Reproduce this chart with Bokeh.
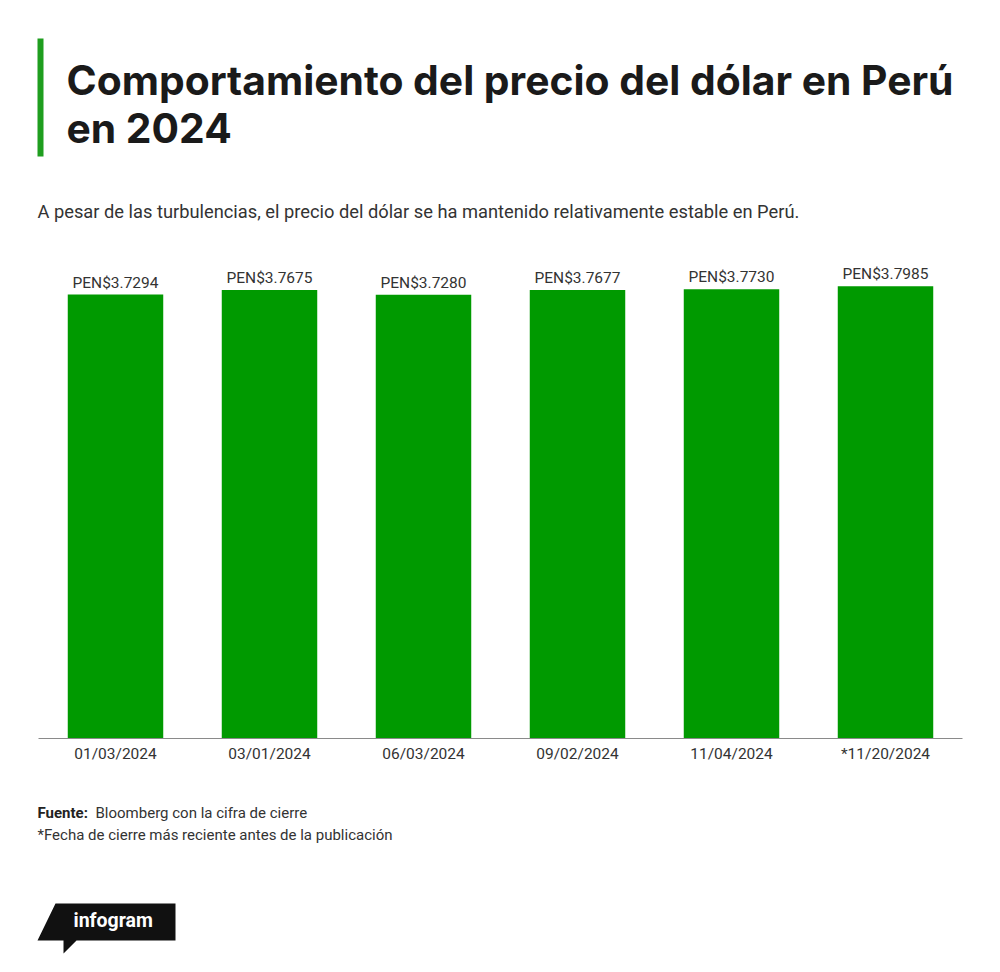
from bokeh.plotting import figure
from bokeh.models import ColumnDataSource, Range1d
from bokeh.core.properties import value
from bokeh.embed import file_html
from bokeh.resources import INLINE

dates = ["01/03/2024", "03/01/2024", "06/03/2024", "09/02/2024", "11/04/2024", "*11/20/2024"]
prices = [3.7294, 3.7675, 3.7280, 3.7677, 3.7730, 3.7985]
labels = ["PEN$%.4f" % v for v in prices]

title_line1 = "Comportamiento del precio del dólar en Perú"
title_line2 = "en 2024"
subtitle = "A pesar de las turbulencias, el precio del dólar se ha mantenido relativamente estable en Perú."
source_bold = "Fuente:"
source_text = "Bloomberg con la cifra de cierre"
note_text = "*Fecha de cierre más reciente antes de la publicación"
brand = "infogram"

W, H = 984, 956
# chart area in page pixels
PLOT_L, PLOT_R, BASE_Y = 38, 962, 738
PX_PER_UNIT = 119.05
cat_w = (PLOT_R - PLOT_L) / len(dates)

# page-pixel ranges for decorations (y measured from top)
p = figure(width=W, height=H, x_range=Range1d(0, W), y_range=Range1d(H, 0),
           output_backend="svg", toolbar_location=None,
           min_border=0, min_border_left=0, min_border_right=0, min_border_top=0, min_border_bottom=0)
p.axis.visible = False
p.grid.visible = False
p.outline_line_color = None
p.background_fill_color = "white"
p.border_fill_color = "white"

# data ranges for bars: category index on x, price on y
p.extra_x_ranges = {"cat": Range1d(-(PLOT_L + cat_w / 2) / cat_w, (W - PLOT_L - cat_w / 2) / cat_w)}
p.extra_y_ranges = {"val": Range1d(-(H - BASE_Y) / PX_PER_UNIT, BASE_Y / PX_PER_UNIT)}

idx = list(range(len(dates)))
src = ColumnDataSource(dict(x=idx, top=prices, label=labels, date=dates, zero=[0] * len(dates)))

p.vbar(x="x", top="top", bottom=0, width=0.62, source=src, fill_color="#009a00", line_color=None,
       x_range_name="cat", y_range_name="val")
p.text(x="x", y="top", text="label", source=src, text_align="center", text_baseline="bottom",
       y_offset=-3, text_font_size="15.5px", text_color="#333333", text_font=value("Roboto"),
       x_range_name="cat", y_range_name="val")

# x axis line and category labels
p.segment(x0=[-0.5], x1=[len(dates) - 0.5], y0=[0], y1=[0], line_color="#8a8a8a", line_width=1,
          x_range_name="cat", y_range_name="val")
p.text(x="x", y="zero", text="date", source=src, text_align="center", text_baseline="top",
       y_offset=6, text_font_size="15.5px", text_color="#333333", text_font=value("Roboto"),
       x_range_name="cat", y_range_name="val")

# green accent bar
p.quad(left=[37], right=[43], top=[38], bottom=[156], fill_color="#1f9e1f", line_color=None)

def label(x, y, txt, size, font="Roboto", style="normal", color="#333333", align="left"):
    p.text(x=[x], y=[y], text=[txt], text_font=value(font), text_font_style=style,
           text_font_size=size, text_color=color, text_baseline="middle", text_align=align)

label(66, 79, title_line1, "40.8px", font="Inter", style="bold", color="#1a1a1a")
label(66, 127, title_line2, "40.8px", font="Inter", style="bold", color="#1a1a1a")
label(37, 211, subtitle, "18.3px")
label(37, 812, source_bold, "15px", style="bold", color="#222222")
label(95, 812, source_text, "15px")
label(37, 834, note_text, "15px")

# infogram logo
p.patch(x=[55, 175, 175, 76, 63, 63, 37], y=[903, 903, 940, 940, 953, 940, 940],
        fill_color="#111111", line_color=None)
label(73, 920, brand, "19.5px", font="Roboto", style="bold", color="white")

open("out.html", "w").write(file_html(p, INLINE))
